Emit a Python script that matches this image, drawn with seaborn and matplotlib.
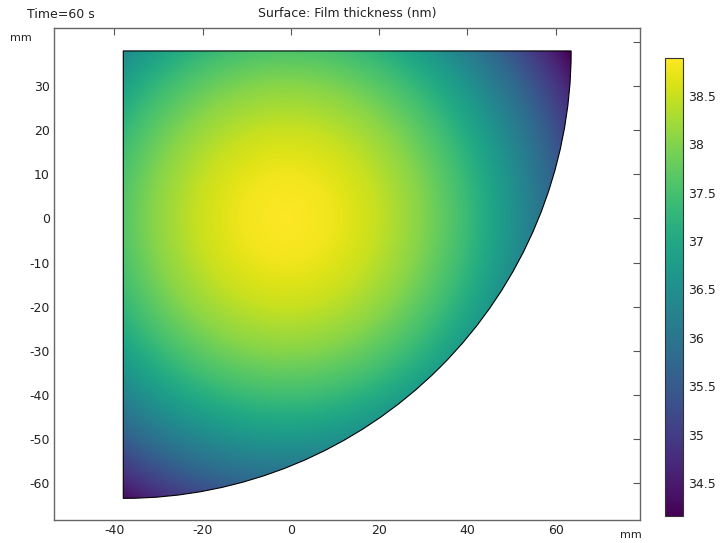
import numpy as np
import matplotlib
matplotlib.use("Agg")
import matplotlib.pyplot as plt
from matplotlib.patches import Wedge
import seaborn as sns

# wafer quarter geometry (mm)
corner = (-38.0, 38.0)
radius = 101.5

# film thickness: radial profile around the peak
peak_center = (-1.0, 0.0)
profile_r = [0, 10, 20, 30, 40, 50, 60, 70, 76]
profile_nm = [38.89, 38.79, 38.50, 38.05, 37.45, 36.68, 35.77, 34.71, 34.0]

cbar_min, cbar_max = 34.16, 38.89
cbar_ticks = [34.5, 35, 35.5, 36, 36.5, 37, 37.5, 38, 38.5]
x_ticks = [-40, -20, 0, 20, 40, 60]
y_ticks = [-60, -50, -40, -30, -20, -10, 0, 10, 20, 30, 40]

sns.set_theme(style="white")
plt.rcParams['font.family'] = ['DejaVu Sans']
plt.rcParams['axes.unicode_minus'] = False

fig = plt.figure(figsize=(7.23, 5.43), dpi=100)
ax = fig.add_axes([0.0747, 0.0424, 0.8105, 0.906])
cax = fig.add_axes([0.9198, 0.0497, 0.0249, 0.8435])

# evaluate the field on a grid over the bounding box of the wafer piece
xs = np.linspace(corner[0], corner[0] + radius, 600)
ys = np.linspace(corner[1] - radius, corner[1], 600)
X, Y = np.meshgrid(xs, ys)
R = np.hypot(X - peak_center[0], Y - peak_center[1])
Z = np.interp(R, profile_r, profile_nm)

cmap = sns.color_palette("viridis", as_cmap=True)
im = ax.imshow(Z, origin="lower", extent=(xs[0], xs[-1], ys[0], ys[-1]),
               cmap=cmap, vmin=cbar_min, vmax=cbar_max, aspect="auto",
               interpolation="bilinear")

shape = Wedge(corner, radius, 270, 360, facecolor="none", edgecolor="black", linewidth=0.8)
ax.add_patch(shape)
im.set_clip_path(shape)

ax.set_xlim(-53.7, 79.1)
ax.set_ylim(-68.4, 43.2)
ax.set_xticks(x_ticks)
ax.set_yticks(y_ticks)
ax.set_yticklabels([str(v) if v != 40 else "" for v in y_ticks])
ax.tick_params(direction="in", length=5, width=0.8, color="#555555",
               top=True, right=True, labelsize=9, labelcolor="#222222", pad=3)
for s in ax.spines.values():
    s.set_color("#666666")
    s.set_linewidth(1.0)

fig.text(27 / 723, 1 - 14 / 543, "Time=60 s", fontsize=9, color="#222222", va="center", ha="left")
fig.text(347 / 723, 1 - 14 / 543, "Surface: Film thickness (nm)", fontsize=9, color="#222222",
         va="center", ha="center")
fig.text(10 / 723, 1 - 38 / 543, "mm", fontsize=8, color="#222222", va="center", ha="left")
fig.text(631 / 723, 1 - 535 / 543, "mm", fontsize=8, color="#222222", va="center", ha="center")

cb = fig.colorbar(im, cax=cax, ticks=cbar_ticks)
cb.ax.set_yticklabels([f"{t:g}" for t in cbar_ticks])
cb.ax.tick_params(direction="in", length=4, width=0.8, color="#333333", left=True, right=True,
                  labelsize=9, labelcolor="#222222", pad=4)
cb.outline.set_edgecolor("#333333")
cb.outline.set_linewidth(0.8)

fig.savefig("out.png", dpi=100)
